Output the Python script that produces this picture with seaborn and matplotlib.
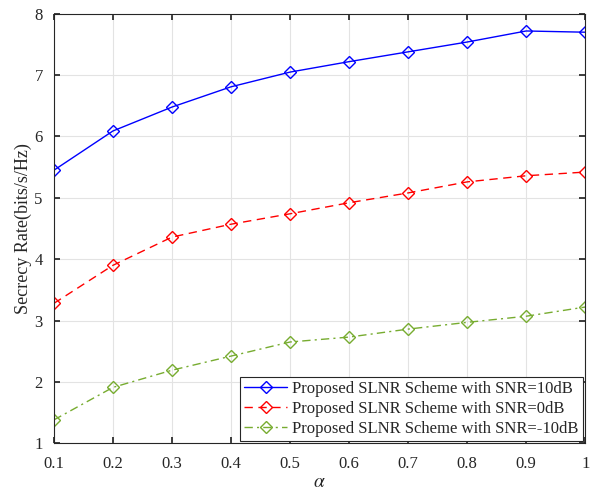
import numpy as np
import pandas as pd
import seaborn as sns
import matplotlib.pyplot as plt

# datos
alpha = [0.1, 0.2, 0.3, 0.4, 0.5, 0.6, 0.7, 0.8, 0.9, 1.0]
rate_10db = [5.45, 6.09, 6.48, 6.81, 7.05, 7.22, 7.38, 7.54, 7.72, 7.70]
rate_0db = [3.28, 3.90, 4.36, 4.57, 4.74, 4.92, 5.08, 5.26, 5.36, 5.42]
rate_m10db = [1.38, 1.91, 2.19, 2.42, 2.65, 2.73, 2.86, 2.97, 3.07, 3.22]
labels = ['Proposed SLNR Scheme with SNR=10dB',
          'Proposed SLNR Scheme with SNR=0dB',
          'Proposed SLNR Scheme with SNR=-10dB']

sns.set_theme(style='whitegrid')
plt.rcParams['font.family'] = ['Liberation Serif', 'DejaVu Serif']
plt.rcParams['mathtext.fontset'] = 'stix'

fig = plt.figure(figsize=(5.99, 4.93), dpi=100)
ax = fig.add_axes([0.090, 0.101, 0.887, 0.871])

series = [
    (rate_10db, '#0000ff', '-'),
    (rate_0db, '#ff0000', (0, (6, 4))),
    (rate_m10db, '#77ac30', (0, (6, 3, 1.5, 3))),
]
for (vals, col, ls), lab in zip(series, labels):
    sns.lineplot(x=alpha, y=vals, ax=ax, color=col, label=lab, linewidth=1.0,
                 marker='D', markersize=6.5, markerfacecolor='none',
                 markeredgecolor=col, markeredgewidth=1.0)
    ax.lines[-1].set_linestyle(ls)

ax.set_xlim(0.1, 1.0)
ax.set_ylim(1, 8)
ax.set_xticks(alpha)
ax.set_xticklabels(['0.1', '0.2', '0.3', '0.4', '0.5', '0.6', '0.7', '0.8', '0.9', '1'])
ax.set_yticks(range(1, 9))
ax.tick_params(direction='in', length=4, labelsize=12, colors='#262626',
               top=True, right=True, bottom=True, left=True)
ax.tick_params(axis='x', pad=9)
ax.tick_params(axis='y', pad=8)
ax.grid(True, color='#e3e3e3', linewidth=0.8)
for s in ax.spines.values():
    s.set_color('#262626')
    s.set_linewidth(0.8)
ax.set_xlabel(r'$\alpha$', fontsize=14, labelpad=2)
ax.set_ylabel('Secrecy Rate(bits/s/Hz)', fontsize=13, labelpad=2)

leg = ax.legend(loc='lower right', fontsize=12, frameon=True, fancybox=False,
                edgecolor='#262626', framealpha=1, borderpad=0.25,
                labelspacing=0.22, handlelength=2.6, handletextpad=0.3,
                borderaxespad=0.15)
leg.get_frame().set_linewidth(0.8)

plt.savefig('out.png', dpi=100)
plt.close()
